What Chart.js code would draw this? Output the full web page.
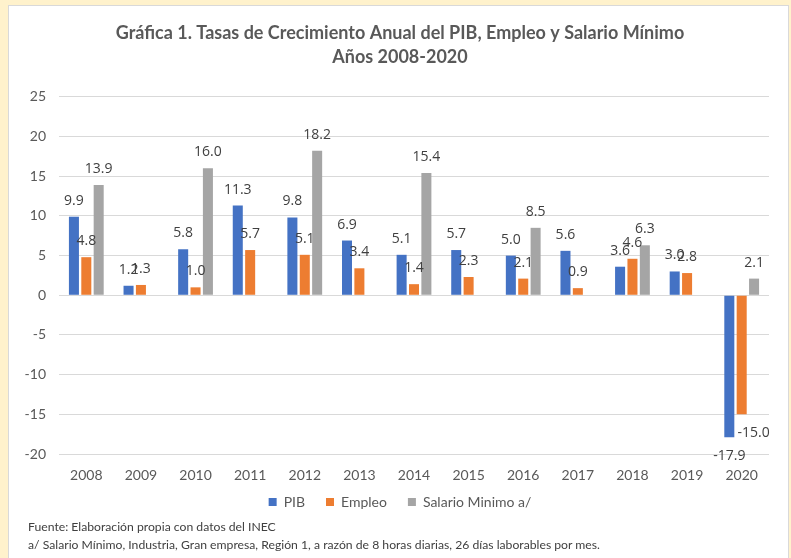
<!DOCTYPE html>
<html>
<head>
<meta charset="utf-8">
<script src="https://cdn.jsdelivr.net/npm/chart.js@4"></script>
<style>
  html, body { margin: 0; padding: 0; }
  body { width: 791px; height: 558px; background: #FFF2CC; position: relative; overflow: hidden; }
  #panel { position: absolute; left: 8px; top: 5px; width: 779px; height: 600px; background: #FFFFFF; border: 1px solid #D9D9D9; }
  #chart { position: absolute; left: 0; top: 0; }
  .foot { position: absolute; left: 28px; font-family: Lato, "Liberation Sans", sans-serif; font-size: 12.2px; color: #404040; white-space: nowrap; line-height: 14px; }
</style>
</head>
<body>
<div id="panel"></div>
<canvas id="chart" width="791" height="558"></canvas>
<div class="foot" style="top:520px;">Fuente: Elaboración propia con datos del INEC</div>
<div class="foot" style="top:538px;">a/ Salario Mínimo, Industria, Gran empresa, Región 1, a razón de 8 horas diarias, 26 días laborables por mes.</div>
<script>
const years = ['2008','2009','2010','2011','2012','2013','2014','2015','2016','2017','2018','2019','2020'];
const pib = [9.9, 1.2, 5.8, 11.3, 9.8, 6.9, 5.1, 5.7, 5.0, 5.6, 3.6, 3.0, -17.9];
const empleo = [4.8, 1.3, 1.0, 5.7, 5.1, 3.4, 1.4, 2.3, 2.1, 0.9, 4.6, 2.8, -15.0];
const salarioMinimo = [13.9, null, 16.0, null, 18.2, null, 15.4, null, 8.5, null, 6.3, null, 2.1];
const seriesNames = ['PIB', 'Empleo', 'Salario Minimo a/'];
const titleLines = ['Gráfica 1. Tasas de Crecimiento Anual del PIB, Empleo y Salario Mínimo', 'Años 2008-2020'];

const labelFont = '14px "Open Sans", sans-serif';
// manual nudge of one overlapping label (dataset index, category index, dx)
const labelNudges = [{ ds: 1, idx: 12, dx: 12 }];

const valueLabels = {
  id: 'valueLabels',
  afterDatasetsDraw(chart) {
    const ctx = chart.ctx;
    ctx.save();
    ctx.font = labelFont;
    ctx.fillStyle = '#404040';
    ctx.textAlign = 'center';
    ctx.textBaseline = 'middle';
    chart.data.datasets.forEach((ds, di) => {
      const meta = chart.getDatasetMeta(di);
      meta.data.forEach((bar, i) => {
        const v = ds.data[i];
        if (v === null || v === undefined) return;
        const n = labelNudges.find(o => o.ds === di && o.idx === i);
        const dx = n ? n.dx : 0;
        const y = v >= 0 ? bar.y - 16 : bar.y + 19;
        ctx.fillText(v.toFixed(1), bar.x + dx, y);
      });
    });
    ctx.restore();
  }
};

new Chart(document.getElementById('chart'), {
  type: 'bar',
  data: {
    labels: years,
    datasets: [
      { label: seriesNames[0], data: pib, backgroundColor: '#4472C4' },
      { label: seriesNames[1], data: empleo, backgroundColor: '#ED7D31' },
      { label: seriesNames[2], data: salarioMinimo, backgroundColor: '#A5A5A5' }
    ]
  },
  options: {
    responsive: false,
    animation: false,
    devicePixelRatio: 1,
    layout: { padding: { left: 31, right: 22, top: 10, bottom: 39 } },
    datasets: { bar: { categoryPercentage: 0.68, barPercentage: 0.81 } },
    plugins: {
      title: {
        display: true,
        text: titleLines,
        color: '#595959',
        font: { family: 'Lato, "Liberation Sans", sans-serif', size: 18, weight: 'bold', lineHeight: 1.33 },
        padding: { top: 11, bottom: 28 }
      },
      legend: {
        position: 'bottom',
        labels: {
          color: '#595959',
          font: { family: 'Lato, "Liberation Sans", sans-serif', size: 14 },
          boxWidth: 8,
          boxHeight: 8,
          padding: 21
        }
      },
      tooltip: { enabled: false }
    },
    scales: {
      x: {
        grid: { display: false, drawTicks: false },
        border: { display: false },
        ticks: { color: '#595959', font: { family: 'Lato, "Liberation Sans", sans-serif', size: 14 }, padding: 13 },
        afterFit(scale) { scale.height = 20; scale._computeLabelArea = () => undefined; }
      },
      y: {
        min: -20,
        max: 25,
        ticks: { stepSize: 5, color: '#595959', font: { family: 'Lato, "Liberation Sans", sans-serif', size: 14 }, padding: 13 },
        grid: { color: '#D9D9D9', lineWidth: 1, drawTicks: false },
        border: { display: false },
        afterFit(scale) { scale.width = 28; scale._computeLabelArea = () => undefined; }
      }
    }
  },
  plugins: [valueLabels]
});
</script>
</body>
</html>
